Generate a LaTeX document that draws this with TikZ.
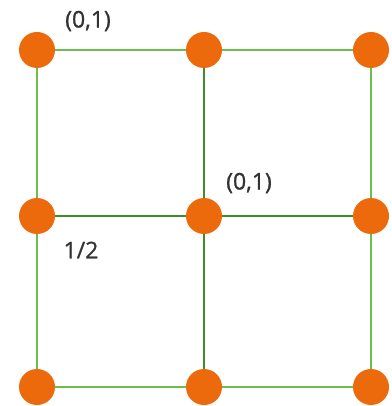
\documentclass[tikz,border=0pt]{standalone}
\usepackage{fontspec}
\setmainfont{Open Sans}
\newfontfamily\lblfont[FakeBold=0.9]{Open Sans}
\definecolor{dot}{HTML}{EC6A0C}
\definecolor{lgreen}{HTML}{6CBF4E}
\definecolor{dgreen}{HTML}{3E8E2A}
\definecolor{txt}{HTML}{333333}
\begin{document}
\begin{tikzpicture}[x=1pt,y=-1pt,
  vtx/.style={circle,fill=dot,minimum size=36pt,inner sep=0pt},
  outer/.style={draw=lgreen,line width=2pt},
  inner/.style={draw=dgreen,line width=2pt},
  lbl/.style={text=txt,font=\lblfont\fontsize{23}{26}\selectfont,inner sep=0pt}]
\useasboundingbox (0,0) rectangle (391,406);
\fill[white] (0,0) rectangle (391,406);
\coordinate (a1) at (37,50);
\coordinate (a2) at (204,50);
\coordinate (a3) at (371,50);
\coordinate (b1) at (37,216);
\coordinate (b2) at (204,216);
\coordinate (b3) at (371,216);
\coordinate (c1) at (37,387);
\coordinate (c2) at (204,387);
\coordinate (c3) at (371,387);
\draw[outer] (a1) -- (a3) -- (c3) -- (c1) -- cycle;
\draw[inner] (b1) -- (b3);
\draw[inner] (a2) -- (c2);
\foreach \n in {a1,a2,a3,b1,b2,b3,c1,c2,c3}
  \node[vtx] (n\n) at (\n) {};
\node[lbl] (l1) at (88,21) {(0,1)};
\node[lbl] (l2) at (249,183) {(0,1)};
\node[lbl] (l3) at (81,250) {1/2};
\end{tikzpicture}
\end{document}
